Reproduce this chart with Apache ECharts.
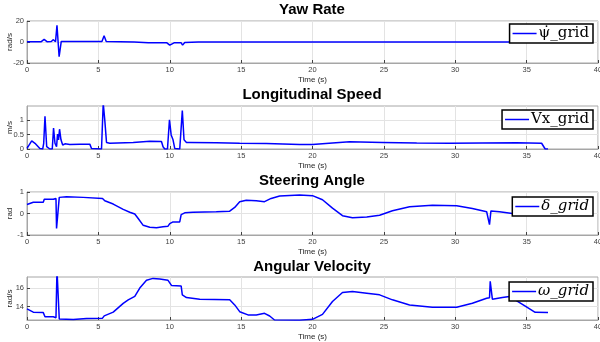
<!DOCTYPE html>
<html>
<head>
<meta charset="utf-8">
<script src="https://cdn.jsdelivr.net/npm/echarts@6/dist/echarts.min.js"></script>
<style>
  html, body { margin: 0; padding: 0; background: #fff; }
  #chart { width: 600px; height: 342px; }
</style>
</head>
<body>
<div id="chart"></div>
<script>
// time (s) / value pairs
const yawT = [0, 1.0, 1.2, 1.4, 1.7, 1.85, 2.0, 2.1, 2.25, 2.4, 2.6, 5.25, 5.4, 5.55, 7.5, 8.5, 9.8, 10.0, 10.3, 10.8, 10.9, 11.05, 12, 20, 30, 36.3];
const yawV = [0.3, 0.3, 2.5, 0.3, 0.5, 2.2, 0.3, 16, -14, 0.5, 0.5, 0.5, 6, 0.5, 0, -0.8, -0.8, -3, -0.8, -0.8, -3, -0.5, 0, 0, 0, 0];

const speedT = [0, 0.33, 0.56, 0.9, 1.1, 1.17, 1.26, 1.38, 1.6, 1.77, 1.86, 1.96, 2.07, 2.14, 2.21, 2.28, 2.38, 2.5, 2.66, 2.77, 3.0, 3.7, 4.4, 4.52, 4.6, 5.22, 5.34, 5.45, 5.57, 5.8, 7.44, 8.6, 9.42, 9.53, 9.65, 9.84, 9.98, 10.1, 10.23, 10.35, 10.7, 10.8, 10.88, 11.0, 11.17, 11.28, 11.4, 13.26, 14.9, 16.76, 19.1, 20.0, 21.4, 22.6, 24.9, 27.3, 29.6, 31.9, 34.3, 36.05, 36.3, 36.5];
const speedV = [0.02, 0.28, 0.2, 0.02, 0, 0.2, 1.14, 0.08, 0, 0, 0.73, 0.2, 0.08, 0.52, 0.32, 0.69, 0.32, 0.14, 0.18, 0.2, 0.16, 0.17, 0.17, 0.02, 0, 0, 1.6, 1.0, 0.23, 0.2, 0.23, 0.27, 0.26, 0.08, 0, 0, 1.02, 0.49, 0.32, 0.02, 0, 0, 1.34, 0.32, 0.23, 0.28, 0.23, 0.22, 0.2, 0.19, 0.16, 0.16, 0.21, 0.25, 0.23, 0.21, 0.2, 0.21, 0.22, 0.2, 0, 0];

const steerT = [0, 0.44, 1.14, 1.21, 1.84, 1.9, 2.03, 2.07, 2.21, 2.26, 2.77, 3.94, 5.29, 5.45, 6.04, 6.74, 7.2, 7.55, 7.79, 8.14, 8.6, 9.07, 9.53, 9.88, 10.0, 10.23, 10.7, 10.8, 11.05, 11.63, 13.26, 14.2, 14.55, 14.9, 15.36, 16.06, 16.64, 17.1, 17.7, 19.1, 20.0, 20.7, 21.4, 22.1, 22.8, 23.8, 24.7, 25.6, 26.8, 28.4, 30.1, 31.2, 32.2, 32.4, 32.5, 33.1, 34.0, 35.2, 36.3];
const steerV = [0.42, 0.52, 0.52, 0.66, 0.66, 0.7, 0.7, -0.7, -0.7, 0.75, 0.78, 0.75, 0.7, 0.59, 0.44, 0.19, 0.06, -0.02, -0.23, -0.55, -0.64, -0.66, -0.62, -0.59, -0.47, -0.39, -0.39, -0.05, 0.03, 0.06, 0.08, 0.11, 0.28, 0.55, 0.62, 0.59, 0.55, 0.7, 0.81, 0.86, 0.83, 0.64, 0.25, -0.1, -0.2, -0.16, -0.08, 0.13, 0.31, 0.38, 0.36, 0.23, 0.08, -0.52, 0.12, 0.08, 0, -0.03, -0.05];

const angT = [0, 0.44, 1.14, 1.26, 1.84, 2.03, 2.1, 2.21, 2.26, 3.24, 4.17, 5.29, 5.41, 6.04, 6.74, 7.09, 7.55, 7.9, 8.37, 8.83, 9.3, 9.88, 10.12, 10.8, 10.88, 11.17, 12.1, 14.2, 14.55, 14.9, 15.48, 16.06, 16.64, 17.0, 17.34, 19.1, 20.0, 20.7, 21.4, 22.1, 22.8, 23.8, 24.7, 25.6, 26.8, 28.4, 30.1, 31.2, 32.2, 32.4, 32.45, 32.6, 33.3, 33.8, 34.96, 35.6, 36.5];
const angV = [13.75, 13.4, 13.35, 12.9, 12.9, 12.8, 18, 18, 12.65, 12.6, 12.7, 12.75, 13.0, 13.4, 14.35, 14.73, 15.1, 16.0, 16.84, 17.05, 16.98, 16.84, 16.29, 16.22, 15.27, 14.98, 14.8, 14.73, 14.18, 13.45, 13.1, 13.1, 13.27, 12.98, 12.55, 12.52, 12.62, 13.16, 14.55, 15.53, 15.64, 15.45, 15.27, 14.73, 14.18, 13.93, 13.93, 14.36, 14.9, 14.95, 16.73, 14.8, 14.98, 15.1, 14.0, 13.38, 13.35];

const titles = ['Yaw Rate', 'Longitudinal Speed', 'Steering Angle', 'Angular Velocity'];
const units = ['rad/s', 'm/s', 'rad', 'rad/s'];
const legendNames = ['\u03c8\u0307_grid', 'Vx_grid', '\u03b4_grid', '\u03c9_grid'];
const yTicks = [[-20, 0, 20], [0, 0.5, 1], [-1, 0, 1], [14, 16]];
const yRanges = [[-20, 20], [0, 1.5], [-1, 1], [12.55, 17.2]];

const panels = [
  { t: yawT, v: yawV, top: 21, h: 42, titleY: 2, legTop: 24, italic: false },
  { t: speedT, v: speedV, top: 106, h: 43, titleY: 87, legTop: 110, italic: false },
  { t: steerT, v: steerV, top: 192, h: 43, titleY: 173, legTop: 197, italic: true },
  { t: angT, v: angV, top: 277, h: 43, titleY: 259, legTop: 282, italic: true }
];

const font = "'Liberation Sans', Arial, sans-serif";
const chart = echarts.init(document.getElementById('chart'));

chart.setOption({
  animation: false,
  backgroundColor: '#fff',
  title: panels.map((p, i) => ({
    text: titles[i],
    left: 312,
    textAlign: 'center',
    top: p.titleY,
    padding: 0,
    textStyle: { fontFamily: font, fontSize: 15, fontWeight: 'bold', color: '#000' }
  })),
  legend: panels.map((p, i) => ({
    data: [legendNames[i]],
    right: 7,
    top: p.legTop,
    padding: [2, 4, 2, 3],
    icon: 'rect',
    itemWidth: 24,
    itemHeight: 1.5,
    itemGap: 0,
    backgroundColor: '#fff',
    borderColor: '#000',
    borderWidth: 1.5,
    borderRadius: 0,
    textStyle: {
      fontFamily: "'DejaVu Serif', 'Liberation Serif', serif",
      fontStyle: p.italic ? 'italic' : 'normal',
      fontSize: 15,
      padding: [0, 0, 0, -3],
      color: '#000'
    }
  })),
  grid: panels.map(p => ({
    left: 27, right: 2, top: p.top, height: p.h,
    containLabel: false, outerBoundsMode: 'none',
    show: true, borderColor: '#a6a6a6', borderWidth: 1, backgroundColor: '#fff'
  })),
  xAxis: panels.map((p, i) => ({
    type: 'value', gridIndex: i, min: 0, max: 40, interval: 5,
    name: 'Time (s)', nameLocation: 'middle', nameGap: 13, nameMoveOverlap: false,
    nameTextStyle: { fontFamily: font, fontSize: 8, color: '#262626' },
    axisLine: { onZero: false, lineStyle: { color: '#a6a6a6' } },
    axisTick: { inside: true, length: 3, lineStyle: { color: '#404040' } },
    axisLabel: { fontFamily: font, fontSize: 7.5, color: '#404040', margin: 3 },
    splitLine: { show: true, lineStyle: { color: '#e3e3e3' } }
  })),
  yAxis: panels.map((p, i) => ({
    type: 'value', gridIndex: i, min: yRanges[i][0], max: yRanges[i][1],
    name: units[i], nameLocation: 'middle', nameGap: 13, nameMoveOverlap: false,
    nameTextStyle: { fontFamily: font, fontSize: 8, color: '#262626' },
    axisLine: { show: true, onZero: false, lineStyle: { color: '#a6a6a6' } },
    axisTick: { show: true, inside: true, length: 3, customValues: yTicks[i], lineStyle: { color: '#404040' } },
    axisLabel: { fontFamily: font, fontSize: 7.5, color: '#404040', margin: 3, customValues: yTicks[i] },
    splitLine: { show: true, lineStyle: { color: '#e3e3e3' } }
  })),
  series: panels.map((p, i) => ({
    name: legendNames[i],
    type: 'line',
    xAxisIndex: i, yAxisIndex: i,
    data: p.t.map((t, k) => [t, p.v[k]]),
    symbol: 'none',
    clip: true,
    lineStyle: { color: '#0000ff', width: 1.5 },
    itemStyle: { color: '#0000ff' }
  }))
});
</script>
</body>
</html>
